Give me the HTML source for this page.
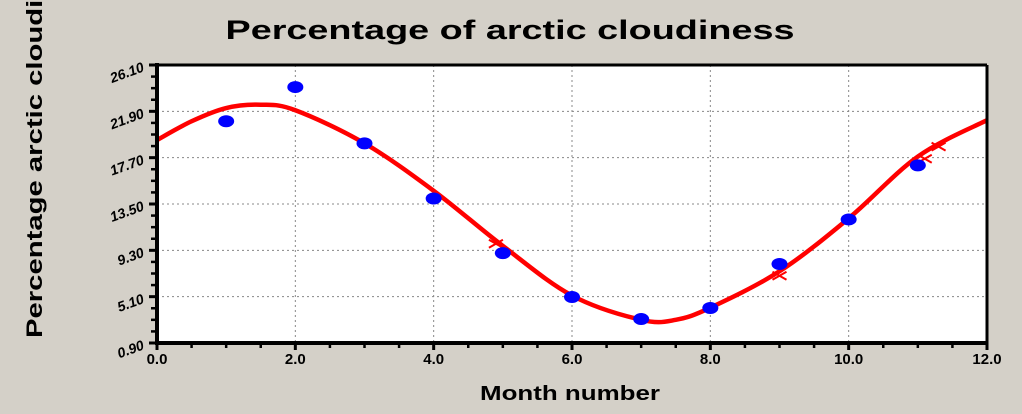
<!DOCTYPE html>
<html><head><meta charset="utf-8"><style>
html,body{margin:0;padding:0;background:#d4d0c8;}
svg{display:block;font-family:"Liberation Sans",Arial,sans-serif;}
</style></head><body>
<svg id="chart" width="1022" height="414" viewBox="0 0 1022 414">
<rect x="0" y="0" width="1022" height="414" fill="#d4d0c8"/>
<text x="510" y="39" text-anchor="middle" font-size="27" font-weight="bold" textLength="569" lengthAdjust="spacingAndGlyphs">Percentage of arctic cloudiness</text>
<text transform="translate(42,338) rotate(-90)" text-anchor="start" font-size="22" font-weight="bold" textLength="405" lengthAdjust="spacingAndGlyphs">Percentage arctic cloudiness</text>
<text x="570" y="400" text-anchor="middle" font-size="20" font-weight="bold" textLength="180" lengthAdjust="spacingAndGlyphs">Month number</text>
<rect x="157" y="65" width="830" height="278" fill="#fff"/>
<g id="grid"></g>
<g id="curve"></g>
<g id="points"></g>
<g id="axes"></g>
</svg>
<script>
const months = [1,2,3,4,5,6,7,8,9,10,11];
const cloudiness = [21.0,24.1,19.0,14.0,9.05,5.07,3.07,4.07,8.06,12.1,17.0];
const fitX = [0,0.5,1,1.5,2,3,4,5,6,7,7.5,8,9,10,11,12];
const fitY = [19.3,21.0,22.2,22.5,22.0,19.0,14.7,9.7,5.2,3.0,3.0,4.1,7.4,12.2,17.8,21.1];
const crossX = [4.9,9.0,11.1,11.3];
const crossY = [9.9,7.0,17.6,18.7];
const yTicks = [0.90,5.10,9.30,13.50,17.70,21.90,26.10];
const xTicks = [0,2,4,6,8,10,12];

const L=157,R=987,T=65,B=343;
const sx=v=>L+(v-0)/12*(R-L);
const sy=v=>B-(v-0.9)/(26.1-0.9)*(B-T);
const NS='http://www.w3.org/2000/svg';
function mk(tag,attrs,parent){const e=document.createElementNS(NS,tag);for(const k in attrs)e.setAttribute(k,attrs[k]);parent.appendChild(e);return e;}
const gridG=document.getElementById('grid'),axesG=document.getElementById('axes'),curveG=document.getElementById('curve'),ptsG=document.getElementById('points');

yTicks.forEach((t,i)=>{
  const y=sy(t);
  if(i>0&&i<yTicks.length-1){const g=mk('line',{x1:L,x2:R,y1:y,y2:y,stroke:'#888','stroke-dasharray':'2,3'},gridG);
  
  }
  const tk=mk('line',{x1:L-8,x2:L,y1:y,y2:y,stroke:'#000','stroke-width':3},axesG);
  
  
  if(i<yTicks.length-1){for(let m=1;m<4;m++){const yy=sy(t+(yTicks[1]-yTicks[0])*m/4);const mt=mk('line',{x1:L-6,x2:L,y1:yy,y2:yy,stroke:'#000','stroke-width':2.5},axesG);
  
  }}
  const lb=mk('text',{transform:`translate(${L-12},${y+6}) rotate(-20)`,'text-anchor':'end','font-size':14,'font-weight':'bold','font-style':'italic'},axesG);
  lb.textContent=t.toFixed(2);
  
  
});
xTicks.forEach((t,i)=>{
  const x=sx(t);
  if(i>0&&i<xTicks.length-1){const g=mk('line',{x1:x,x2:x,y1:T,y2:B,stroke:'#888','stroke-dasharray':'2,3'},gridG);
  
  }
  const tk=mk('line',{x1:x,x2:x,y1:B,y2:B+7,stroke:'#000','stroke-width':3},axesG);
  
  
  if(i<xTicks.length-1){for(let m=1;m<4;m++){const xx=sx(t+m*0.5);const mt=mk('line',{x1:xx,x2:xx,y1:B,y2:B+5,stroke:'#000','stroke-width':2.5},axesG);
  
  }}
  const lb=mk('text',{x:x,y:B+21,'text-anchor':'middle','font-size':15,'font-weight':'bold'},axesG);
  lb.textContent=t.toFixed(1);
  
  
});
const leftLine=mk('line',{x1:L,x2:L,y1:T-2,y2:B+2,stroke:'#000','stroke-width':4},axesG);


const bottomLine=mk('line',{x1:L-2,x2:R+1,y1:B,y2:B,stroke:'#000','stroke-width':4},axesG);


const topLine=mk('line',{x1:L,x2:R,y1:T,y2:T,stroke:'#000','stroke-width':3},axesG);


const rightLine=mk('line',{x1:R,x2:R,y1:T,y2:B,stroke:'#000','stroke-width':3},axesG);



const P=fitX.map((x,i)=>[sx(x),sy(fitY[i])]);
let d=`M${P[0][0]},${P[0][1]}`;
for(let i=0;i<P.length-1;i++){const p0=P[Math.max(0,i-1)],p1=P[i],p2=P[i+1],p3=P[Math.min(P.length-1,i+2)];
 d+=` C${p1[0]+(p2[0]-p0[0])/6},${p1[1]+(p2[1]-p0[1])/6} ${p2[0]-(p3[0]-p1[0])/6},${p2[1]-(p3[1]-p1[1])/6} ${p2[0]},${p2[1]}`;}
const fp=mk('path',{d:d,fill:'none',stroke:'#ff0000','stroke-width':4.5},curveG);


crossX.forEach((x,i)=>{const cx=sx(x),cy=sy(crossY[i]);
 const c=mk('path',{d:`M${cx-7},${cy-4}L${cx+7},${cy+4}M${cx-7},${cy+4}L${cx+7},${cy-4}`,stroke:'#ff0000','stroke-width':2},curveG);
 
 });
months.forEach((m,i)=>{
 const e=mk('ellipse',{cx:sx(m),cy:sy(cloudiness[i]),rx:8,ry:6,fill:'#0000ff'},ptsG);
 
 
});
</script>
</body></html>
